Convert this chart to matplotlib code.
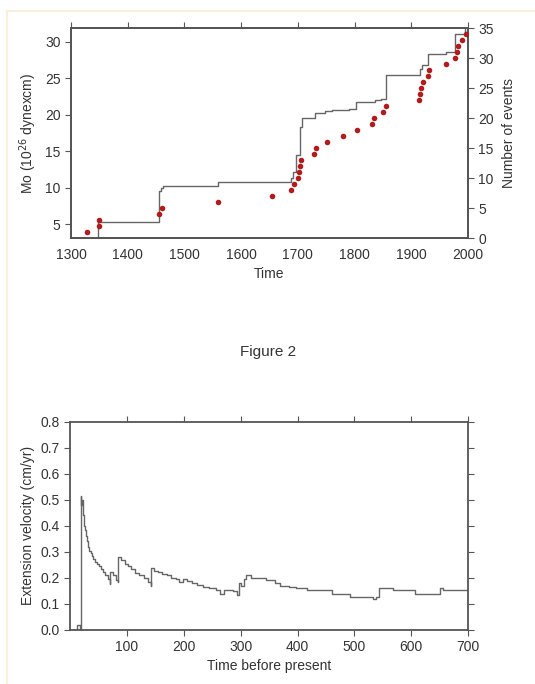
import matplotlib
matplotlib.use("Agg")
import matplotlib.pyplot as plt
from matplotlib.lines import Line2D

plt.rcParams['font.family'] = ['Liberation Sans', 'DejaVu Sans']

# --- top panel data ---
# cumulative seismic moment (step line, left axis)
mo_years = [1328, 1347, 1455, 1458, 1463, 1560, 1688, 1692, 1696, 1704, 1708, 1731, 1748,
            1760, 1790, 1802, 1836, 1846, 1856, 1915, 1919, 1929, 1961, 1978, 1995, 2000]
mo_values = [2.5, 5.3, 9.6, 9.9, 10.25, 10.8, 11.4, 12.2, 14.5, 18.3, 19.6, 20.3, 20.5,
             20.6, 20.8, 21.8, 22.0, 22.2, 25.4, 26.3, 26.9, 28.4, 28.6, 31.1, 32.5, 32.5]

# event dates (dots, right axis)
event_years = [1328, 1349, 1349, 1456, 1460, 1560, 1655, 1688, 1693, 1701, 1702, 1703, 1706,
               1729, 1732, 1751, 1780, 1804, 1831, 1835, 1850, 1856, 1914, 1916, 1918, 1921,
               1930, 1932, 1962, 1978, 1980, 1983, 1989, 1997]
event_counts = list(range(1, len(event_years) + 1))

# --- bottom panel data ---
vel_time = [0, 12, 17, 19, 20, 21, 22, 23, 24, 25, 26, 28, 30, 32, 34, 36, 38, 41, 44, 47,
            50, 54, 58, 62, 66, 70, 71, 75, 80, 84, 85, 90, 96, 102, 108, 115, 122, 130, 137,
            142, 143, 148, 155, 162, 170, 178, 186, 192, 198, 205, 214, 224, 234, 245, 256,
            264, 270, 286, 293, 297, 300, 305, 310, 318, 330, 345, 360, 369, 385, 398, 416,
            460, 492, 533, 538, 543, 568, 607, 651, 655, 700]
vel_value = [0.0, 0.02, 0.0, 0.515, 0.48, 0.50, 0.47, 0.44, 0.42, 0.40, 0.385, 0.36, 0.34,
             0.32, 0.305, 0.295, 0.285, 0.272, 0.262, 0.253, 0.245, 0.235, 0.222, 0.21, 0.195,
             0.178, 0.222, 0.21, 0.19, 0.183, 0.282, 0.27, 0.255, 0.245, 0.235, 0.22, 0.21,
             0.198, 0.185, 0.168, 0.239, 0.228, 0.222, 0.215, 0.21, 0.20, 0.195, 0.186, 0.195,
             0.188, 0.18, 0.172, 0.166, 0.16, 0.152, 0.138, 0.155, 0.148, 0.135, 0.18, 0.168,
             0.195, 0.21, 0.20, 0.198, 0.19, 0.18, 0.17, 0.165, 0.16, 0.154, 0.138, 0.128,
             0.12, 0.125, 0.16, 0.154, 0.138, 0.16, 0.153, 0.153]

text_col = '#333333'
spine_col = '#555555'
line_col = '#666666'

fig = plt.figure(figsize=(5.35, 6.84), dpi=100)

# faint page border seen in the scan
fig.add_artist(Line2D([7 / 535, 1], [1 - 11 / 684, 1 - 11 / 684], color='#fbeedc', lw=1.5))
fig.add_artist(Line2D([7 / 535, 7 / 535], [0, 1 - 11 / 684], color='#fbeedc', lw=1.5))


def style_axes(ax):
    for s in ax.spines.values():
        s.set_color(spine_col)
        s.set_linewidth(1.3)
    ax.tick_params(direction='out', length=4, width=0.8, color=spine_col,
                   labelsize=10, labelcolor=text_col)


# top panel
ax1 = fig.add_axes([0.1327, 0.652, 0.742, 0.307])
ax1.step(mo_years, mo_values, where='post', color=line_col, lw=1.0)
ax1.set_xlim(1300, 2000)
ax1.set_ylim(3.1, 31.9)
ax1.set_xticks(range(1300, 2001, 100))
ax1.set_yticks([5, 10, 15, 20, 25, 30])
ax1.set_xlabel('Time', fontsize=10, color=text_col, labelpad=3)
ax1.set_ylabel('Mo (10$^{26}$ dynexcm)', fontsize=10, color=text_col, labelpad=4)
style_axes(ax1)
ax1.tick_params(top=True, labeltop=False, bottom=False)

ax1r = ax1.twinx()
ax1r.scatter(event_years, event_counts, s=16, color='#b11b1b', zorder=3, linewidths=0)
ax1r.set_ylim(0, 35)
ax1r.set_yticks(range(0, 36, 5))
ax1r.set_ylabel('Number of events', fontsize=10, color=text_col, labelpad=6)
style_axes(ax1r)

fig.text(0.501, 1 - 352 / 684, 'Figure 2', ha='center', va='center', fontsize=11, color=text_col)

# bottom panel
ax2 = fig.add_axes([0.131, 0.079, 0.744, 0.3045])
ax2.plot(vel_time, vel_value, drawstyle='steps-post', color=line_col, lw=1.0)
ax2.set_xlim(0, 700)
ax2.set_ylim(0, 0.8)
ax2.set_xticks(range(100, 701, 100))
ax2.set_yticks([i / 10 for i in range(9)])
ax2.set_yticklabels(['%.1f' % (i / 10) for i in range(9)])
ax2.set_xlabel('Time before present', fontsize=10, color=text_col, labelpad=3)
ax2.set_ylabel('Extension velocity (cm/yr)', fontsize=10, color=text_col, labelpad=4)
style_axes(ax2)
ax2.tick_params(top=True, right=True, labeltop=False, labelright=False)

fig.savefig('out.png', dpi=100)
